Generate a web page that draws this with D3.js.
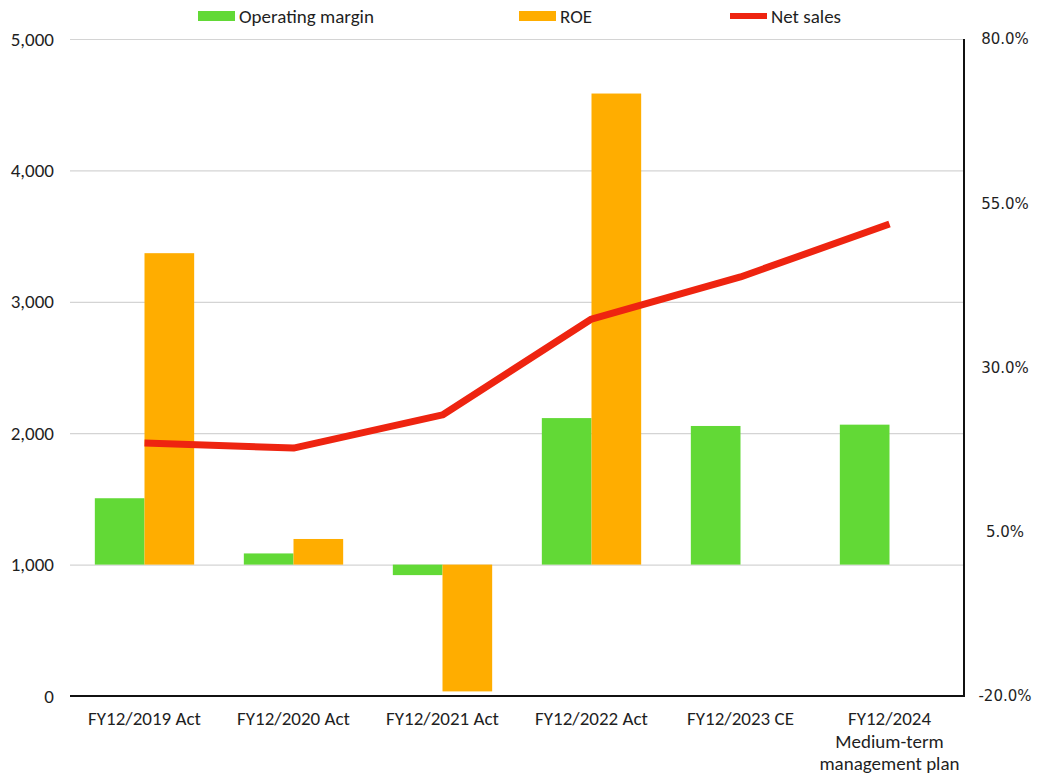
<!DOCTYPE html>
<html>
<head>
<meta charset="utf-8">
<script src="https://cdn.jsdelivr.net/npm/d3@7"></script>
<style>
  html, body { margin: 0; padding: 0; background: #ffffff; }
  svg { display: block; }
  .lbl { font-family: Carlito, Lato, "Liberation Sans Narrow", sans-serif; font-size: 19px; fill: #1f1f1f; }
  .rlbl { font-family: "DejaVu Sans", Verdana, sans-serif; font-size: 15px; fill: #1f1f1f; }
</style>
</head>
<body>
<script>
// Fiscal periods along the x axis (lines split on "\n")
const categories = [
  "FY12/2019 Act",
  "FY12/2020 Act",
  "FY12/2021 Act",
  "FY12/2022 Act",
  "FY12/2023 CE",
  "FY12/2024\nMedium-term\nmanagement plan"
];

// Net sales (left axis)
const netSales = [1925, 1887, 2139, 2869, 3189, 3592];

// Operating margin and ROE in percent (right axis)
const operatingMargin = [10.1, 1.7, -1.6, 22.3, 21.1, 21.3];
const roe = [47.4, 3.9, -19.3, 71.7, null, null];

// Axis ticks
const leftTicks = [0, 1000, 2000, 3000, 4000, 5000];
const rightTicks = [-20, 5, 30, 55, 80];

const W = 1051, H = 776;
const plot = { left: 70, right: 964, top: 39, bottom: 696 };

const colors = { om: "#62D936", roe: "#FFAD00", sales: "#EE2410" };

const svg = d3.select("body").append("svg").attr("width", W).attr("height", H);

const x = d3.scaleBand().domain(categories).range([plot.left, plot.right]).paddingInner(0).paddingOuter(0);
const xSub = d3.scaleBand().domain(["om", "roe"]).range([0, x.bandwidth()]).paddingInner(0).paddingOuter(0.5);
const yLeft = d3.scaleLinear().domain([0, 5000]).range([plot.bottom, plot.top]);
const yRight = d3.scaleLinear().domain([-20, 80]).range([plot.bottom, plot.top]);

// Left axis with horizontal gridlines
const gLeft = svg.append("g")
  .attr("transform", `translate(${plot.left},0)`)
  .call(d3.axisLeft(yLeft).tickValues(leftTicks).tickFormat(d3.format(","))
    .tickSizeInner(-(plot.right - plot.left)).tickSizeOuter(0).tickPadding(16));
gLeft.select(".domain").remove();
gLeft.selectAll(".tick line").attr("stroke", "#d4d4d4").attr("stroke-width", 1.2);
gLeft.selectAll(".tick text").attr("class", "lbl").attr("fill", null);

// Right axis (percent)
const gRight = svg.append("g")
  .attr("transform", `translate(${plot.right},0)`)
  .call(d3.axisRight(yRight).tickValues(rightTicks).tickFormat(d => d.toFixed(1) + "%")
    .tickSize(0).tickPadding(0));
gRight.select(".domain").remove();
gRight.selectAll(".tick text").attr("class", "rlbl").attr("fill", null)
  .attr("x", 41).attr("text-anchor", "middle");

// Bars: operating margin and ROE
const barData = [];
categories.forEach((c, i) => {
  barData.push({ cat: c, key: "om", v: operatingMargin[i] });
  if (roe[i] !== null) barData.push({ cat: c, key: "roe", v: roe[i] });
});
svg.append("g").selectAll("rect").data(barData).join("rect")
  .attr("x", d => x(d.cat) + xSub(d.key))
  .attr("width", xSub.bandwidth())
  .attr("y", d => Math.min(yRight(d.v), yRight(0)))
  .attr("height", d => Math.abs(yRight(d.v) - yRight(0)))
  .attr("fill", d => colors[d.key]);

// Axis lines
svg.append("line")
  .attr("x1", plot.left).attr("x2", plot.right)
  .attr("y1", plot.bottom).attr("y2", plot.bottom)
  .attr("stroke", "#111").attr("stroke-width", 2);
svg.append("line")
  .attr("x1", plot.right).attr("x2", plot.right)
  .attr("y1", plot.top).attr("y2", plot.bottom + 1)
  .attr("stroke", "#111").attr("stroke-width", 2);

// Net sales line
const line = d3.line()
  .x((d, i) => x(categories[i]) + x.bandwidth() / 2)
  .y(d => yLeft(d));
svg.append("path")
  .datum(netSales)
  .attr("d", line)
  .attr("fill", "none")
  .attr("stroke", colors.sales)
  .attr("stroke-width", 7)
  .attr("stroke-linejoin", "round");

// Category labels
const gx = svg.append("g");
categories.forEach(c => {
  const cx = x(c) + x.bandwidth() / 2;
  const t = gx.append("text").attr("class", "lbl").attr("text-anchor", "middle")
    .attr("x", cx).attr("y", 725);
  c.split("\n").forEach((s, j) => {
    t.append("tspan").attr("x", cx).attr("dy", j === 0 ? 0 : 22.5).text(s);
  });
});

// Legend
const legend = [
  { label: "Operating margin", color: colors.om, x: 198, h: 10 },
  { label: "ROE", color: colors.roe, x: 519, h: 10 },
  { label: "Net sales", color: colors.sales, x: 730, h: 6 }
];
const gl = svg.append("g");
legend.forEach(d => {
  gl.append("rect").attr("x", d.x).attr("y", 16 - d.h / 2).attr("width", 37).attr("height", d.h).attr("fill", d.color);
  gl.append("text").attr("class", "lbl").attr("x", d.x + 41).attr("y", 16)
    .attr("dominant-baseline", "central").text(d.label);
});
</script>
</body>
</html>
